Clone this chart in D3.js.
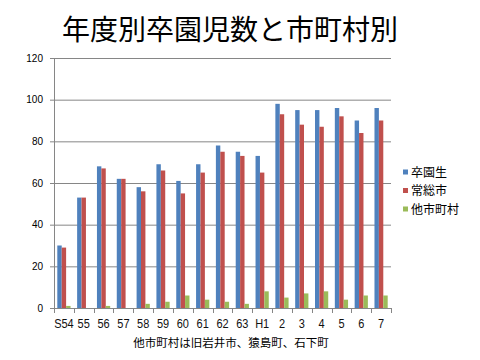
<!DOCTYPE html>
<html><head><meta charset="utf-8">
<script src="https://cdn.jsdelivr.net/npm/d3@7"></script>
<style>
body{margin:0;background:#fff;}
text{font-family:"Liberation Sans","Noto Sans CJK JP",sans-serif;}
.jp{font-family:"Noto Sans CJK JP",sans-serif;}
</style></head>
<body>
<svg id="c" width="480" height="360"></svg>
<script>
const categories = ["S54","55","56","57","58","59","60","61","62","63","H1","2","3","4","5","6","7"];
const graduates = [30,53,68,62,58,69,61,69,78,75,73,98,95,95,96,90,96];
const joso = [29,53,67,62,56,66,55,65,75,73,65,93,88,87,92,84,90];
const others = [1,0,1,0,2,3,6,4,3,2,8,5,7,8,4,6,6];
const seriesNames = ["卒園生","常総市","他市町村"];
const colors = ["#4F81BD","#C0504D","#9BBB59"];
const yTicks = [0,20,40,60,80,100,120];
const title = "年度別卒園児数と市町村別";
const note = "他市町村は旧岩井市、猿島町、石下町";

const svg = d3.select("#c");
const m = {l:54, r:391, t:58, b:308};
const x = d3.scaleBand().domain(categories).range([m.l, m.r]).padding(0);
const y = d3.scaleLinear().domain([0,120]).range([m.b, m.t]);

// gridlines
svg.append("g").selectAll("line").data(yTicks).join("line")
  .attr("x1", m.l-4).attr("x2", m.r).attr("y1", d=>y(d)+0.5).attr("y2", d=>y(d)+0.5)
  .attr("stroke","#868686").attr("stroke-width",1);

// y axis line
svg.append("line").attr("x1",m.l+0.5).attr("x2",m.l+0.5).attr("y1",m.t).attr("y2",m.b)
  .attr("stroke","#868686");

// y labels
svg.append("g").selectAll("text").data(yTicks).join("text")
  .attr("x", m.l-11).attr("y", d=>y(d)+3.5).attr("text-anchor","end")
  .attr("font-size",10).attr("fill","#000").text(d=>d);

// bars
const series = [graduates, joso, others];
const bw = x.bandwidth()/4.5;
series.forEach((vals, si) => {
  svg.append("g").selectAll("rect").data(vals).join("rect")
    .attr("x", (d,i)=> x(categories[i]) + x.bandwidth()/2 - 1.5*bw + si*bw)
    .attr("width", bw)
    .attr("y", d=>y(d)).attr("height", d=> y(0)-y(d))
    .attr("fill", colors[si]);
});

// x axis
svg.append("line").attr("x1",m.l).attr("x2",m.r).attr("y1",m.b+0.5).attr("y2",m.b+0.5).attr("stroke","#868686");
const bounds = categories.map(c=>x(c)).concat([m.r]);
svg.append("g").selectAll("line").data(bounds).join("line")
  .attr("x1",d=>Math.round(d)+0.5).attr("x2",d=>Math.round(d)+0.5)
  .attr("y1",m.b).attr("y2",m.b+5).attr("stroke","#868686");
svg.append("g").selectAll("text").data(categories).join("text")
  .attr("transform", d=>`translate(${x(d)+x.bandwidth()/2},328) scale(1,1.2)`)
  .attr("text-anchor","middle").attr("font-size",11).attr("fill","#111")
  .text(d=>d);

// title
svg.append("text").attr("class","jp").attr("x",230).attr("y",40).attr("text-anchor","middle")
  .attr("font-size",28).attr("fill","#000").text(title);

// note
svg.append("text").attr("class","jp").attr("x",231).attr("y",347).attr("text-anchor","middle")
  .attr("font-size",11.5).attr("fill","#000").text(note);

// legend
const lg = svg.append("g");
seriesNames.forEach((n,i)=>{
  const cy = 172 + i*18.5;
  lg.append("rect").attr("x",403).attr("y",cy-2.5).attr("width",5).attr("height",5).attr("fill",colors[i]);
  lg.append("text").attr("class","jp").attr("x",411).attr("y",cy+4.5).attr("font-size",12).text(n);
});
</script>
</body></html>
